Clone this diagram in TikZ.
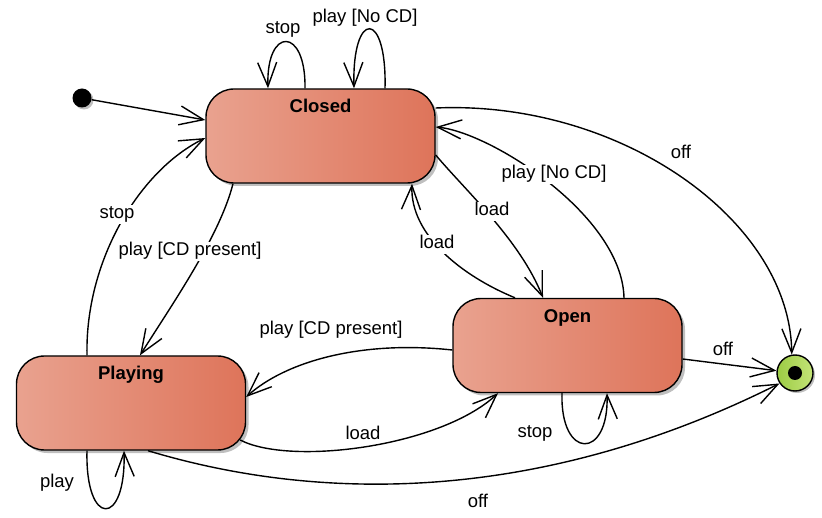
\documentclass[tikz,border=0pt]{standalone}
\usepackage{fontspec}
\setmainfont{Liberation Sans}
\usetikzlibrary{arrows.meta,shadows}
\definecolor{stL}{RGB}{233,162,143}
\definecolor{stR}{RGB}{222,116,90}
\definecolor{fgL}{RGB}{156,204,68}
\definecolor{fgR}{RGB}{196,228,120}
\begin{document}
\begin{tikzpicture}[x=1pt,y=-1pt,
  font=\fontsize{18.5pt}{22pt}\selectfont,
  state/.style={draw=black, line width=1.4pt, rounded corners=28pt,
    minimum width=229pt, minimum height=94pt, inner sep=0pt,
    left color=stL, right color=stR,
    drop shadow={shadow xshift=3pt, shadow yshift=-3pt, opacity=0.25, fill=black}},
  ttl/.style={anchor=center, yshift=-20pt, font=\fontsize{18.5pt}{22pt}\selectfont\bfseries,
    text height=13pt, text depth=4pt, inner sep=0pt},
  tr/.style={draw=black, line width=1.4pt, -{Straight Barb[length=24pt,width=19pt]}},
  lbl/.style={inner sep=1pt, text height=13pt, text depth=4pt, yshift=-2.5pt},
  onl/.style={lbl, fill=white},
]
\useasboundingbox (0,0) rectangle (822,518);
\fill[white] (0,0) rectangle (822,518);

% states
\node[state, label={[ttl]90:Closed}] (closed) at (320.5,136) {};
\node[state, label={[ttl]90:Open}] (open) at (567.5,345.5) {};
\node[state, label={[ttl]90:Playing}] (playing) at (131,403) {};
\node[circle, fill=black, minimum size=19pt, inner sep=0pt,
  drop shadow={shadow xshift=2pt, shadow yshift=-2pt, opacity=0.25, fill=black}] (init) at (82,98) {};
\node[circle, draw=black, line width=1.4pt, minimum size=36pt, inner sep=0pt,
  left color=fgL, right color=fgR,
  drop shadow={shadow xshift=2pt, shadow yshift=-2pt, opacity=0.25, fill=black}] (final) at (795,373) {};
\fill[black] (final.center) circle (7pt);

% transitions
\draw[tr] (init) -- ([yshift=16pt]closed.west);
\draw[tr] ([xshift=-15.5pt]closed.north) .. controls +(1,-62) and +(-2,-62) .. ([xshift=-52.5pt]closed.north);
\draw[tr] ([xshift=64.5pt]closed.north) .. controls +(2,-79) and +(-2,-79) .. ([xshift=33.5pt]closed.north);
\draw[tr] ([yshift=28pt]closed.east) .. controls (620,100) and (790,220) .. (final.100);
\draw[tr] ([xshift=56.5pt]open.north) .. controls (622,215) and (490,132) .. ([yshift=9pt]closed.east);
\draw[tr] ([yshift=-19pt]closed.east) .. controls (465,190) and (520,240) .. ([xshift=-24.5pt]open.north);
\draw[tr] ([xshift=-52.5pt]open.north) .. controls (462,276) and (410,235) .. ([xshift=91.5pt]closed.south);
\draw[tr] ([xshift=-87.5pt]closed.south) .. controls (220,235) and (175,300) .. ([xshift=9pt]playing.north);
\draw[tr] ([xshift=-44pt]playing.north) .. controls (85,260) and (140,170) .. ([yshift=-2pt]closed.west);
\draw[tr] ([xshift=-44pt]playing.south) .. controls +(-2,77) and +(2,77) .. ([xshift=-7pt]playing.south);
\draw[tr] ([yshift=-4.5pt]open.west) .. controls (360,340) and (285,362) .. ([yshift=6pt]playing.east);
\draw[tr] ([xshift=-6pt,yshift=-37pt]playing.east) .. controls (290,466) and (440,447) .. ([xshift=-69.5pt]open.south);
\draw[tr] ([xshift=17pt]playing.south) .. controls (328,505) and (547,500) .. (final.214);
\draw[tr] ([yshift=-13.5pt]open.east) -- (final);
\draw[tr] ([xshift=-5.5pt]open.south) .. controls +(-2,67) and +(2,67) .. ([xshift=39.5pt]open.south);

% labels
\node[lbl] (l1) at (283,27) {stop};
\node[lbl] (l2) at (365,16) {play [No CD]};
\node[lbl] (l3) at (681,152) {off};
\node[onl] (l4) at (554,172) {play [No CD]};
\node[onl] (l5) at (492,209) {load};
\node[onl] (l6) at (437,242) {load};
\node[onl] (l7) at (117,212) {stop};
\node[onl] (l8) at (190,249) {play [CD present]};
\node[lbl] (l9) at (331,328) {play [CD present]};
\node[lbl] (l10) at (363,432) {load};
\node[lbl] (l11) at (723,349) {off};
\node[lbl] (l12) at (535,430) {stop};
\node[lbl] (l13) at (57,480) {play};
\node[lbl] (l14) at (478,500) {off};
\end{tikzpicture}
\end{document}
